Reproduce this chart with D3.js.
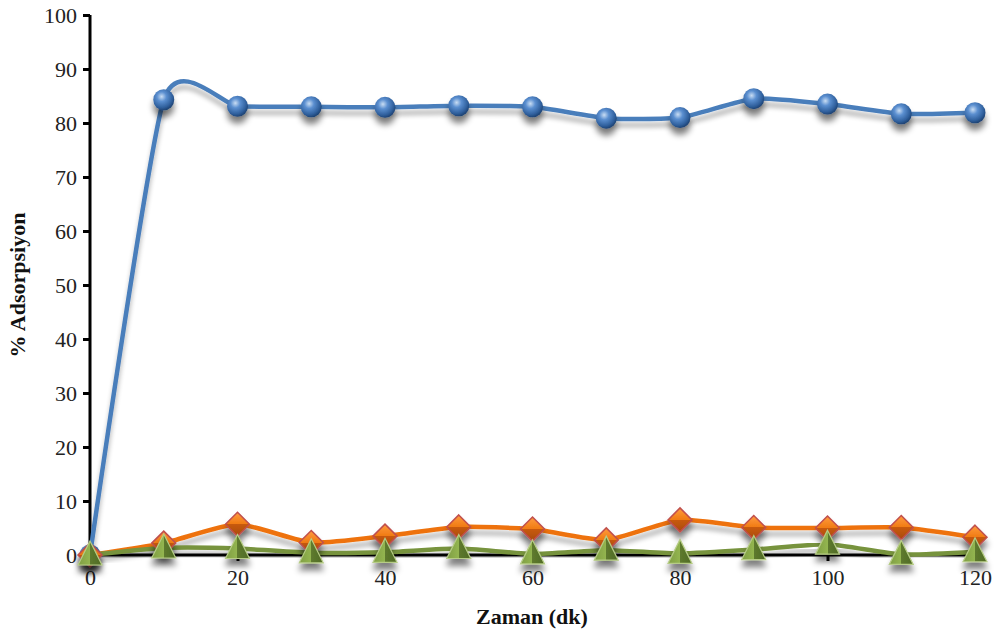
<!DOCTYPE html>
<html><head><meta charset="utf-8">
<script src="https://cdnjs.cloudflare.com/ajax/libs/d3/7.8.5/d3.min.js"></script>
<style>body{margin:0;background:#fff}svg{display:block}
svg text{font-family:"Liberation Serif","Times New Roman",Times,serif !important;}</style>
</head><body>
<script>
const times = [0,10,20,30,40,50,60,70,80,90,100,110,120];
const seriesBlue   = [0,84.3,83.1,83.0,82.9,83.2,83.0,80.9,81.0,84.5,83.5,81.7,81.9];
const seriesOrange = [0,2.2,5.7,2.3,3.5,5.2,4.8,2.8,6.5,5.1,5.0,5.1,3.3];
const seriesGreen  = [0,1.3,1.2,0.4,0.5,1.2,0.2,0.9,0.3,1.0,2.0,0.1,0.6];
const xTicks = [0,20,40,60,80,100,120];
const yTicks = [0,10,20,30,40,50,60,70,80,90,100];
const xTitle = "Zaman (dk)";
const yTitle = "% Adsorpsiyon";

const W=997,H=635;
const svg=d3.select("body").append("svg").attr("width",W).attr("height",H);
const x=d3.scaleLinear().domain([0,120]).range([90,975]);
const y=d3.scaleLinear().domain([0,100]).range([555,15]);
const defs=svg.append("defs");
const sh=defs.append("filter").attr("id","shadow").attr("x","-50%").attr("y","-50%").attr("width","200%").attr("height","250%");
sh.append("feGaussianBlur").attr("in","SourceAlpha").attr("stdDeviation",3).attr("result","b");
sh.append("feOffset").attr("in","b").attr("dx",0).attr("dy",7).attr("result","o");
sh.append("feComponentTransfer").attr("in","o").attr("result","t").append("feFuncA").attr("type","linear").attr("slope",0.5);
const m=sh.append("feMerge"); m.append("feMergeNode").attr("in","t"); m.append("feMergeNode").attr("in","SourceGraphic");
const lsh=defs.append("filter").attr("id","lshadow").attr("x","-10%").attr("y","-10%").attr("width","120%").attr("height","130%");
lsh.append("feGaussianBlur").attr("in","SourceAlpha").attr("stdDeviation",2.5).attr("result","b");
lsh.append("feOffset").attr("in","b").attr("dx",0).attr("dy",6).attr("result","o");
lsh.append("feComponentTransfer").attr("in","o").attr("result","t").append("feFuncA").attr("type","linear").attr("slope",0.3);
const m2=lsh.append("feMerge"); m2.append("feMergeNode").attr("in","t"); m2.append("feMergeNode").attr("in","SourceGraphic");

const rg=defs.append("radialGradient").attr("id","sphere").attr("cx","40%").attr("cy","35%").attr("r","65%");
rg.append("stop").attr("offset","0%").attr("stop-color","#c9ddf3");
rg.append("stop").attr("offset","35%").attr("stop-color","#5b8fd0");
rg.append("stop").attr("offset","80%").attr("stop-color","#2f5f9c");
rg.append("stop").attr("offset","100%").attr("stop-color","#1f4475");
const og=defs.append("linearGradient").attr("id","dia").attr("x1",0).attr("y1",0).attr("x2",0).attr("y2",1);
og.append("stop").attr("offset","0%").attr("stop-color","#ff9c40");
og.append("stop").attr("offset","50%").attr("stop-color","#f07a12");
og.append("stop").attr("offset","50%").attr("stop-color","#c85a0c");
og.append("stop").attr("offset","100%").attr("stop-color","#a84a0a");
const gg=defs.append("linearGradient").attr("id","tri").attr("x1",0).attr("y1",0).attr("x2",1).attr("y2",0);
gg.append("stop").attr("offset","0%").attr("stop-color","#7f9e43");
gg.append("stop").attr("offset","50%").attr("stop-color","#93b550");
gg.append("stop").attr("offset","50%").attr("stop-color","#5e7a2e");
gg.append("stop").attr("offset","100%").attr("stop-color","#4f6a25");

const yAxis=svg.append("g").attr("transform","translate(90,0)").call(d3.axisLeft(y).tickValues(yTicks).tickSize(7).tickPadding(6));
const xAxis=svg.append("g").attr("transform","translate(0,555)").call(d3.axisBottom(x).tickValues(xTicks).tickSize(6).tickPadding(8));
[yAxis,xAxis].forEach(a=>{a.attr("font-family",null);
 a.select(".domain").attr("stroke","#000").attr("stroke-width",3);
 a.selectAll(".tick line").attr("stroke","#000").attr("stroke-width",3);
 a.selectAll("text").attr("font-size",22).attr("fill","#222");});
yAxis.select(".domain").attr("d","M0,15V556.5");
xAxis.select(".domain").attr("d","M88.5,0H975");

const line=d3.line().x((d,i)=>x(times[i])).y(d=>y(d)).curve(d3.curveCardinal.tension(0.4));
const series=[{v:seriesBlue,c:"#4a7ebb",type:"sphere"},{v:seriesOrange,c:"#ee720c",type:"diamond"},{v:seriesGreen,c:"#77933c",type:"tri"}];
series.forEach(s=>{
  svg.append("path").attr("d",line(s.v)).attr("fill","none").attr("stroke",s.c).attr("stroke-width",4.5).attr("filter","url(#lshadow)");
});
series.forEach(s=>{
  const g=svg.append("g").attr("filter","url(#shadow)");
  s.v.forEach((d,i)=>{
    const cx=x(times[i]),cy=y(d);
    if(s.type==="sphere"){
      g.append("circle").attr("cx",cx).attr("cy",cy).attr("r",10.5).attr("fill","url(#sphere)");
    } else if(s.type==="diamond"){
      const r=12;
      g.append("path").attr("d",`M${cx},${cy-r}L${cx+r},${cy}L${cx},${cy+r}L${cx-r},${cy}Z`).attr("fill","url(#dia)").attr("stroke","#c0504d").attr("stroke-width",1.5);
    } else {
      const r=12;
      g.append("path").attr("d",`M${cx},${cy-r-2}L${cx+r},${cy+r-2}L${cx-r},${cy+r-2}Z`).attr("fill","url(#tri)").attr("stroke","#b6cc86").attr("stroke-width",1.2);
    }
  });
});
svg.append("text").attr("x",532).attr("y",624).attr("text-anchor","middle").attr("font-size",22).attr("font-weight","bold").attr("fill","#111").text(xTitle);
svg.append("text").attr("transform","translate(25,285) rotate(-90)").attr("text-anchor","middle").attr("font-size",22).attr("font-weight","bold").attr("fill","#111").text(yTitle);
</script>
</body></html>
